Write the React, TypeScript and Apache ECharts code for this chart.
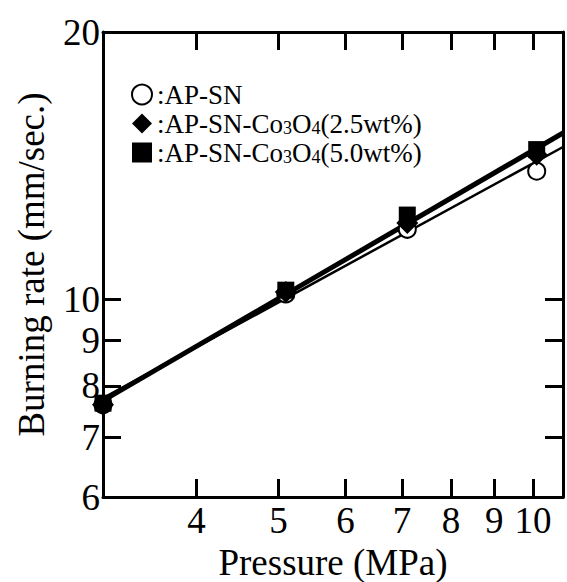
import React, { useEffect, useRef } from 'react';
import * as echarts from 'echarts';

// ---- data ----
const pressureRange = [3.1, 10.85];
const rateRange = [6, 20];
const pressureTicks = [4, 5, 6, 7, 8, 9, 10];
const rateTicks = [7, 8, 9, 10];
const rateLabels = [6, 7, 8, 9, 10, 20];

const pressure = [3.1, 5.1, 7.1, 10.1];
const rateAPSN = [7.62, 10.15, 12.0, 13.95];
const rateCo25 = [7.62, 10.2, 12.2, 14.55];
const rateCo50 = [7.65, 10.25, 12.45, 14.75];

const fitPressure = [3.1, 10.85];
const fitAPSN = [7.75, 14.85];
const fitCo25 = [7.68, 15.35];
const fitCo50 = [7.72, 15.45];

const seriesNames = ['AP-SN', 'AP-SN-Co3O4(2.5wt%)', 'AP-SN-Co3O4(5.0wt%)'];

const FONT = '"Liberation Serif", "Times New Roman", serif';

const pairs = (xs: number[], ys: number[]) => xs.map((x, i) => [x, ys[i]]);
const lg = (v: number) => Math.log10(v);

export default function App() {
  const ref = useRef<HTMLDivElement>(null);
  useEffect(() => {
    if (!ref.current) return;
    const chart = echarts.init(ref.current, undefined, { renderer: 'svg' });
    const black = '#000';
    const tickLine = { color: black, width: 3 };
    const labelFmt = (v: number) => String(Math.round(Math.pow(10, v)));

    const xAux = (pos: 'bottom' | 'top', withLabels: boolean) => ({
      type: 'value',
      position: pos,
      min: lg(pressureRange[0]),
      max: lg(pressureRange[1]),
      axisLine: { show: true, onZero: false, lineStyle: { color: black, width: 3 } },
      axisTick: { show: true, inside: true, length: 18, customValues: pressureTicks.map(lg), lineStyle: tickLine },
      axisLabel: withLabels
        ? { show: true, customValues: pressureTicks.map(lg), formatter: labelFmt, fontSize: 37, color: black, fontFamily: FONT, margin: 5 }
        : { show: false },
      splitLine: { show: false },
      ...(withLabels
        ? { name: 'Pressure (MPa)', nameLocation: 'middle', nameGap: 35, nameTextStyle: { fontSize: 37, color: black, fontFamily: FONT } }
        : {}),
    });
    const yAux = (pos: 'left' | 'right', withLabels: boolean) => ({
      type: 'value',
      position: pos,
      min: lg(rateRange[0]),
      max: lg(rateRange[1]),
      axisLine: { show: true, onZero: false, lineStyle: { color: black, width: 3 } },
      axisTick: { show: true, inside: true, length: 18, customValues: rateTicks.map(lg), lineStyle: tickLine },
      axisLabel: withLabels
        ? { show: true, customValues: rateLabels.map(lg), formatter: labelFmt, fontSize: 37, color: black, fontFamily: FONT, margin: 3, showMinLabel: true, showMaxLabel: true }
        : { show: false },
      splitLine: { show: false },
      ...(withLabels
        ? { name: 'Burning rate (mm/sec.)', nameLocation: 'middle', nameGap: 53, nameTextStyle: { fontSize: 37, color: black, fontFamily: FONT } }
        : {}),
    });

    const fitLine = (name: string, ys: number[], width: number) => ({
      name,
      type: 'line',
      xAxisIndex: 0,
      yAxisIndex: 0,
      data: pairs(fitPressure, ys),
      symbol: 'none',
      lineStyle: { color: black, width },
      z: 2,
    });

    chart.setOption({
      animation: false,
      backgroundColor: '#fff',
      grid: { left: 103, right: 4, top: 32, bottom: 85, containLabel: false, outerBoundsMode: 'none' },
      legend: {
        orient: 'vertical',
        left: 126,
        top: 76,
        itemWidth: 20,
        itemHeight: 20,
        itemGap: 2,
        selectedMode: false,
        data: [
          { name: seriesNames[0], icon: 'circle', itemStyle: { color: '#fff', borderColor: black, borderWidth: 2 } },
          { name: seriesNames[1], icon: 'diamond', itemStyle: { color: black } },
          { name: seriesNames[2], icon: 'rect', itemStyle: { color: black } },
        ],
        formatter: (name: string) => {
          if (name === seriesNames[0]) return '{t|:AP-SN}';
          const m = name.match(/\((.*)\)$/);
          return '{t|:AP-SN-Co}{s|3}{t|O}{s|4}{t|(' + (m ? m[1] : '') + ')}';
        },
        textStyle: {
          color: black,
          fontFamily: FONT,
          fontSize: 27,
          rich: {
            t: { fontSize: 27, fontFamily: FONT, color: black, lineHeight: 27 },
            s: { fontSize: 18, fontFamily: FONT, color: black, lineHeight: 16, verticalAlign: 'bottom' },
          },
        },
      },
      xAxis: [
        { type: 'log', logBase: 10, min: pressureRange[0], max: pressureRange[1], show: false, position: 'bottom' },
        xAux('bottom', true),
        xAux('top', false),
      ],
      yAxis: [
        { type: 'log', logBase: 10, min: rateRange[0], max: rateRange[1], show: false, position: 'left' },
        yAux('left', true),
        yAux('right', false),
      ],
      series: [
        fitLine('fit AP-SN', fitAPSN, 2.5),
        fitLine('fit 2.5wt%', fitCo25, 3),
        fitLine('fit 5.0wt%', fitCo50, 3),
        {
          name: seriesNames[0],
          type: 'scatter',
          data: pairs(pressure, rateAPSN),
          symbol: 'circle',
          symbolSize: 17,
          itemStyle: { color: '#fff', borderColor: black, borderWidth: 2, opacity: 1 },
          z: 3,
        },
        {
          name: seriesNames[1],
          type: 'scatter',
          data: pairs(pressure, rateCo25),
          symbol: 'diamond',
          symbolSize: 22,
          itemStyle: { color: black, opacity: 1 },
          z: 4,
        },
        {
          name: seriesNames[2],
          type: 'scatter',
          data: pairs(pressure, rateCo50),
          symbol: 'rect',
          symbolSize: 17,
          itemStyle: { color: black, opacity: 1 },
          z: 5,
        },
      ],
    });
    return () => chart.dispose();
  }, []);
  return (
    <div
      ref={ref}
      style={{ position: 'fixed', left: 0, top: 0, width: 567, height: 582, background: '#fff' }}
    />
  );
}
